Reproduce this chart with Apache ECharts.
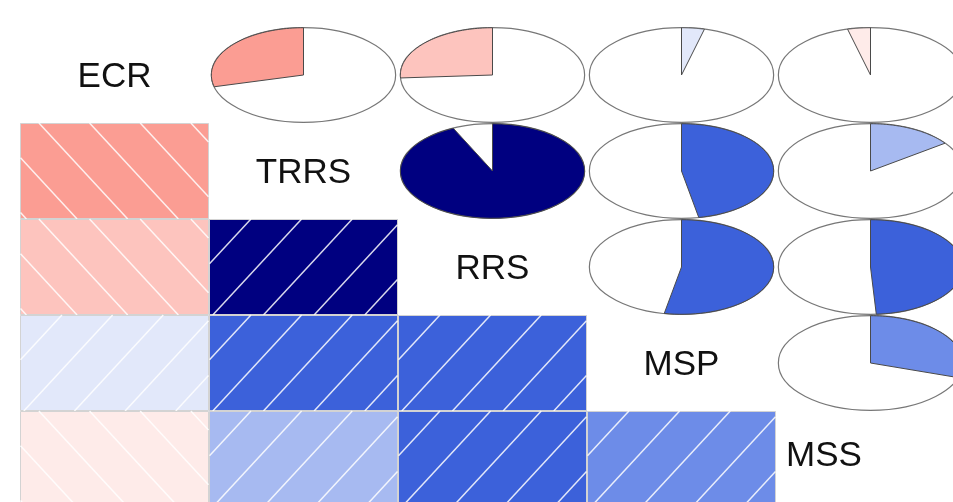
<!DOCTYPE html>
<html>
<head>
<meta charset="utf-8">
<script src="https://cdn.jsdelivr.net/npm/echarts@6/dist/echarts.min.js"></script>
<style>
  html, body { margin: 0; padding: 0; background: #ffffff; }
  #chart { width: 953px; height: 502px; }
</style>
</head>
<body>
<div id="chart"></div>
<script>
// Variables shown on the diagonal of the correlogram
const variables = ['ECR', 'TRRS', 'RRS', 'MSP', 'MSS'];

// Correlation matrix, one row per variable
const rECR  = [ 1.00, -0.29, -0.26,  0.04, -0.04];
const rTRRS = [-0.29,  1.00,  0.93,  0.47,  0.15];
const rRRS  = [-0.26,  0.93,  1.00,  0.53,  0.49];
const rMSP  = [ 0.04,  0.47,  0.53,  1.00,  0.30];
const rMSS  = [-0.04,  0.15,  0.49,  0.30,  1.00];
const corrRows = [rECR, rTRRS, rRRS, rMSP, rMSS];

// Diverging palette: red - salmon - white - royalblue - navy, cut into 14 bins
const anchors = [[255, 0, 0], [250, 128, 114], [255, 255, 255], [65, 105, 225], [0, 0, 128]];
const NBINS = 14;
function rampColor(t) {
  const seg = Math.min(Math.floor(t * 4), 3);
  const f = t * 4 - seg;
  const a = anchors[seg], b = anchors[seg + 1];
  const c = a.map((v, i) => Math.round(v + (b[i] - v) * f));
  return 'rgb(' + c.join(',') + ')';
}
const palette = [];
for (let i = 0; i < NBINS; i++) palette.push(rampColor(i / (NBINS - 1)));
function corrColor(r) {
  let idx = Math.floor((r + 1) / 2 * NBINS);
  if (idx >= NBINS) idx = NBINS - 1;
  if (idx < 0) idx = 0;
  return palette[idx];
}

// Off-diagonal panels: [column, row, r]
const cellData = [];
corrRows.forEach((row, i) => {
  row.forEach((r, j) => { if (i !== j) cellData.push([j, i, r]); });
});
const diagData = variables.map((v, i) => [i, i, v]);

// Clip a segment to the horizontal span [xl, xr]
function clipSegment(xa, ya, xb, yb, xl, xr) {
  const dx = xb - xa;
  let t0 = 0, t1 = 1;
  if (Math.abs(dx) > 1e-9) {
    let ta = (xl - xa) / dx, tb = (xr - xa) / dx;
    if (ta > tb) { const tmp = ta; ta = tb; tb = tmp; }
    t0 = Math.max(t0, ta); t1 = Math.min(t1, tb);
  } else if (xa < xl || xa > xr) return null;
  if (t1 - t0 < 1e-6) return null;
  return [xa + dx * t0, ya + (yb - ya) * t0, xa + dx * t1, ya + (yb - ya) * t1];
}

function shadePanel(x0, y0, W, H, r) {
  const children = [{
    type: 'rect',
    shape: { x: x0 + 0.5, y: y0 + 0.5, width: W - 1, height: H - 1 },
    style: { fill: corrColor(r), stroke: '#d3d3d3', lineWidth: 1 }
  }];
  const run = 0.47 * W;      // horizontal travel of a hatch line across the panel height
  const xl = x0 + 0.5, xr = x0 + W - 0.5;
  for (let m = -4; m <= 5; m++) {
    let seg;
    if (r > 0) {
      const xb = x0 + (0.02 + m * 0.268) * W;
      seg = clipSegment(xb, y0 + H, xb + run, y0, xl, xr);
    } else {
      const xt = x0 + (0.10 + m * 0.268) * W;
      seg = clipSegment(xt, y0, xt + run, y0 + H, xl, xr);
    }
    if (seg) {
      children.push({
        type: 'line',
        shape: { x1: seg[0], y1: seg[1], x2: seg[2], y2: seg[3] },
        style: { stroke: 'rgba(255,255,255,0.85)', lineWidth: 1.5 }
      });
    }
  }
  return { type: 'group', children: children };
}

function piePanel(cx, cy, W, H, r) {
  const rx = 0.975 * W / 2, ry = 0.985 * H / 2;
  const N = 60;
  const pts = [];
  for (let k = 0; k < N; k++) {
    const t = Math.PI / 2 - 2 * Math.PI * r * k / (N - 1);
    pts.push([cx + rx * Math.cos(t), cy - ry * Math.sin(t)]);
  }
  pts.push([cx, cy]);
  return {
    type: 'group',
    children: [
      { type: 'ellipse', shape: { cx: cx, cy: cy, rx: rx, ry: ry },
        style: { fill: '#ffffff', stroke: '#777777', lineWidth: 1.2 } },
      { type: 'polygon', shape: { points: pts },
        style: { fill: corrColor(r), stroke: '#4a4a4a', lineWidth: 1 } }
    ]
  };
}

const chart = echarts.init(document.getElementById('chart'), null, { renderer: 'canvas' });
chart.setOption({
  backgroundColor: '#ffffff',
  animation: false,
  grid: { left: 20, top: 27, width: 945, height: 480, outerBoundsMode: 'none', containLabel: false },
  xAxis: { type: 'category', data: variables, show: false },
  yAxis: { type: 'category', data: variables, inverse: true, show: false },
  series: [
    {
      type: 'custom',
      data: cellData,
      renderItem: function (params, api) {
        const col = api.value(0), row = api.value(1), r = api.value(2);
        const c = api.coord([col, row]);
        const s = api.size([1, 1]);
        if (col < row) return shadePanel(c[0] - s[0] / 2, c[1] - s[1] / 2, s[0], s[1], r);
        return piePanel(c[0], c[1], s[0], s[1], r);
      }
    },
    {
      type: 'custom',
      data: diagData,
      renderItem: function (params, api) {
        const i = api.value(0);
        const c = api.coord([i, i]);
        const s = api.size([1, 1]);
        const last = i === variables.length - 1;
        return {
          type: 'text',
          style: {
            text: variables[i],
            x: last ? c[0] - s[0] / 2 + 10 : c[0],
            y: last ? c[1] - 3 : c[1] + 2,
            align: last ? 'left' : 'center',
            verticalAlign: 'middle',
            fontSize: 35,
            fontFamily: '"Liberation Sans", Arial, sans-serif',
            fill: '#111111'
          }
        };
      }
    }
  ]
});
</script>
</body>
</html>
